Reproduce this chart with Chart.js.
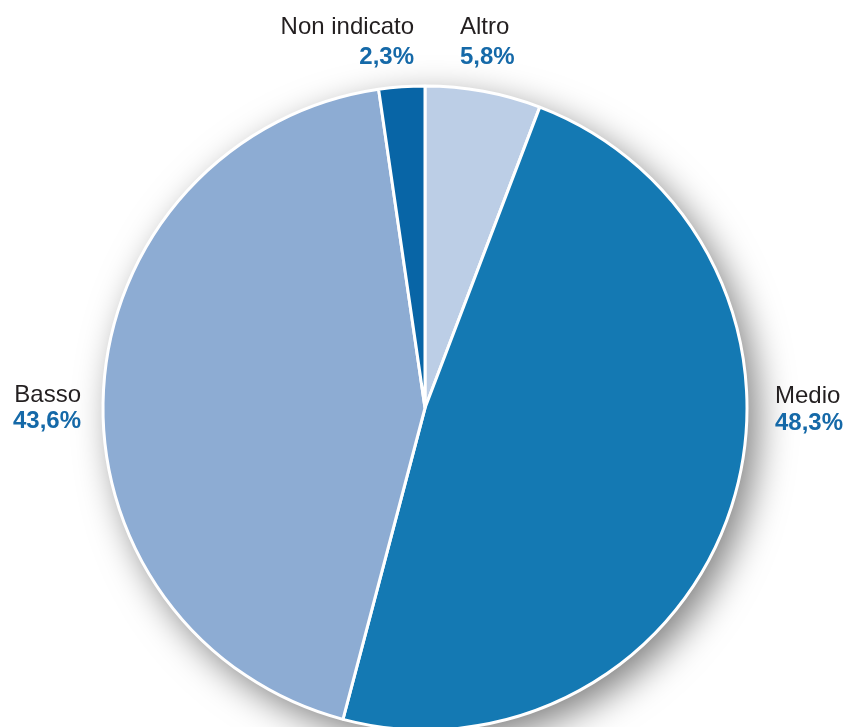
<!DOCTYPE html>
<html lang="it">
<head>
<meta charset="utf-8">
<title>Distribuzione per livello</title>
<script src="https://cdn.jsdelivr.net/npm/chart.js@4/dist/chart.umd.min.js"></script>
<style>
  html, body { margin: 0; padding: 0; background: #ffffff; overflow: hidden; }
  #wrap { width: 846px; height: 727px; }
</style>
</head>
<body>
<div id="wrap"><canvas id="pie" width="846" height="727"></canvas></div>
<script>
// Categories and shares (%), clockwise from 12 o'clock
const categories = ['Altro', 'Medio', 'Basso', 'Non indicato'];
const shares = [5.8, 48.3, 43.6, 2.3];
const sliceColors = ['#bccee6', '#1479b3', '#8dacd3', '#0865a6'];

const fontFamily = '"Liberation Sans", Arial, Helvetica, sans-serif';
const formatShare = v => v.toFixed(1).replace('.', ',') + '%';

// Label placement relative to the pie centre (dx, dy of the name baseline),
// alignment and the distance from the name to the share below it
const labelLayout = {
  'Altro':        { dx: 35,   dy: -374, align: 'left',  gap: 30 },
  'Medio':        { dx: 350,  dy: -5,   align: 'left',  gap: 27 },
  'Basso':        { dx: -344, dy: -6,   align: 'right', gap: 26 },
  'Non indicato': { dx: -11,  dy: -374, align: 'right', gap: 30 }
};

// Soft drop shadow underneath the whole pie
const pieShadow = {
  id: 'pieShadow',
  beforeDatasetsDraw(chart) {
    const arc = chart.getDatasetMeta(0).data[0];
    if (!arc) return;
    const { x, y, outerRadius } = arc.getProps(['x', 'y', 'outerRadius'], true);
    const ctx = chart.ctx;
    ctx.save();
    ctx.shadowColor = 'rgba(0,0,0,0.5)';
    ctx.shadowBlur = 36;
    ctx.shadowOffsetX = 10;
    ctx.shadowOffsetY = 12;
    ctx.fillStyle = '#ffffff';
    ctx.beginPath();
    ctx.arc(x, y, outerRadius, 0, Math.PI * 2);
    ctx.fill();
    ctx.restore();
  }
};

// Category names with their share underneath
const sliceLabels = {
  id: 'sliceLabels',
  afterDatasetsDraw(chart) {
    const arc = chart.getDatasetMeta(0).data[0];
    if (!arc) return;
    const { x, y } = arc.getProps(['x', 'y'], true);
    const ctx = chart.ctx;
    ctx.save();
    ctx.textBaseline = 'alphabetic';
    categories.forEach((name, i) => {
      const l = labelLayout[name];
      ctx.textAlign = l.align;
      ctx.fillStyle = '#231f20';
      ctx.font = '24px ' + fontFamily;
      ctx.fillText(name, x + l.dx, y + l.dy);
      ctx.fillStyle = '#1569a8';
      ctx.font = 'bold 24px ' + fontFamily;
      ctx.fillText(formatShare(shares[i]), x + l.dx, y + l.dy + l.gap);
    });
    ctx.restore();
  }
};

new Chart(document.getElementById('pie'), {
  type: 'pie',
  data: {
    labels: categories,
    datasets: [{
      data: shares,
      backgroundColor: sliceColors,
      borderColor: '#ffffff',
      borderWidth: 3,
      radius: 322,
      clip: false
    }]
  },
  options: {
    responsive: false,
    animation: false,
    layout: { padding: { left: 4, right: 0, top: 89, bottom: 0 } },
    plugins: {
      legend: { display: false },
      tooltip: { enabled: false }
    }
  },
  plugins: [pieShadow, sliceLabels]
});
</script>
</body>
</html>
